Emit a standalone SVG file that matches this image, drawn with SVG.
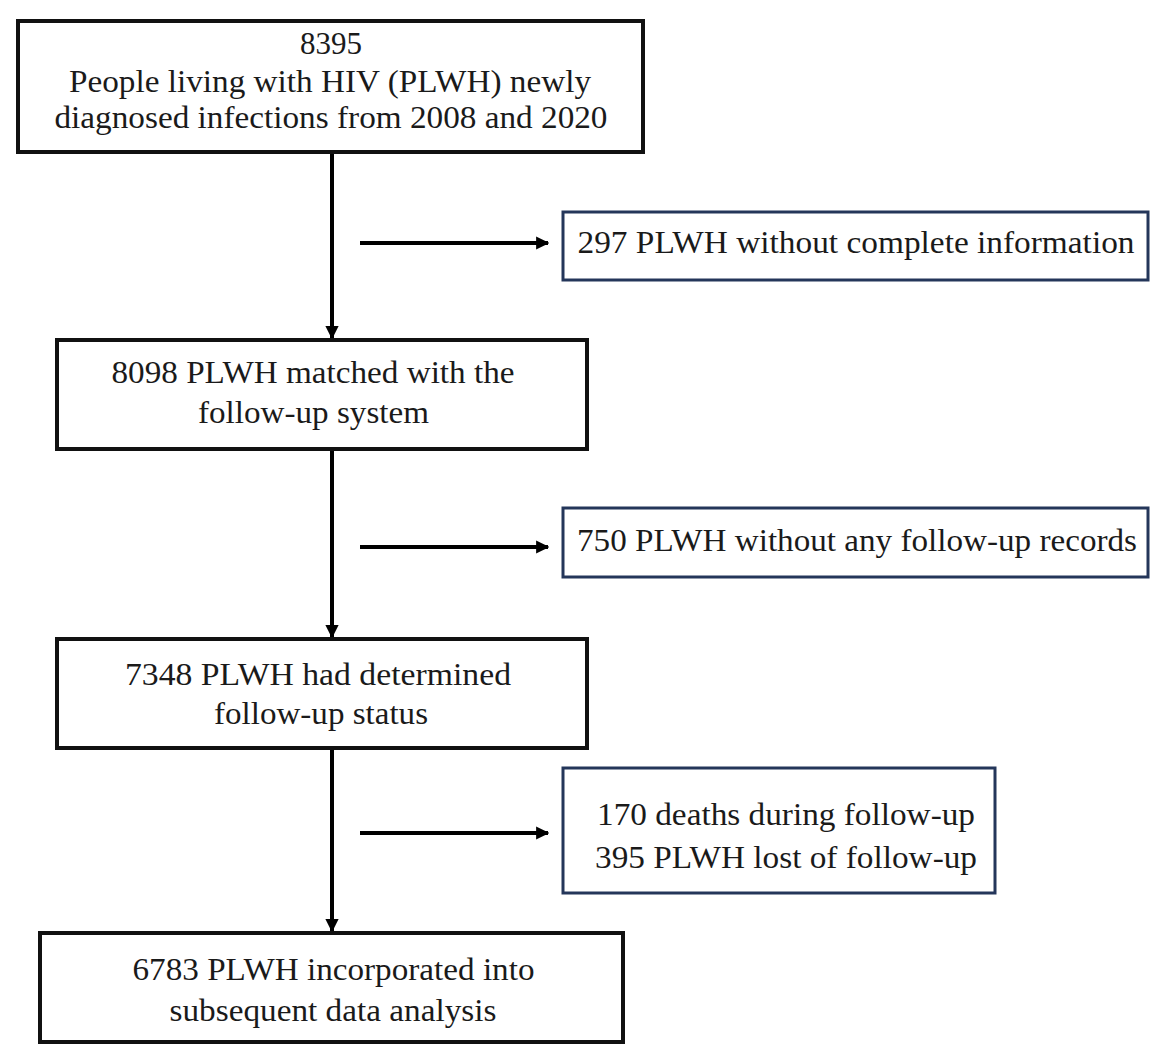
<svg xmlns="http://www.w3.org/2000/svg" width="1171" height="1059" viewBox="0 0 1171 1059">
<defs>
<style>
.main{fill:#fff;stroke:#111;stroke-width:4}
.side{fill:#fff;stroke:#24365a;stroke-width:3}
text{font-family:"Liberation Serif","Times New Roman",serif;font-size:31.5px;fill:#1a1a1a;text-anchor:middle}
.conn{stroke:#000;stroke-width:4;fill:none}
</style>
<marker id="ah" viewBox="0 0 10 10" refX="9" refY="5" markerWidth="3.3" markerHeight="3.3" markerUnits="strokeWidth" orient="auto">
<path d="M0,0 L10,5 L0,10 z" fill="#000"/>
</marker>
</defs>
<rect width="1171" height="1059" fill="#fff"/>
<g id="connectors">
<line class="conn" x1="332" y1="152" x2="332" y2="338" marker-end="url(#ah)"/>
<line class="conn" x1="332" y1="449" x2="332" y2="637" marker-end="url(#ah)"/>
<line class="conn" x1="332" y1="748" x2="332" y2="931" marker-end="url(#ah)"/>
<line class="conn" x1="360" y1="243" x2="548" y2="243" marker-end="url(#ah)"/>
<line class="conn" x1="360" y1="547" x2="548" y2="547" marker-end="url(#ah)"/>
<line class="conn" x1="360" y1="833" x2="548" y2="833" marker-end="url(#ah)"/>
</g>
<g id="n1">
<rect class="main" x="18" y="21" width="625" height="131"/>
<text x="331" y="54" textLength="62" lengthAdjust="spacingAndGlyphs">8395</text>
<text x="330" y="92" textLength="522" lengthAdjust="spacingAndGlyphs">People living with HIV (PLWH) newly</text>
<text x="331" y="128" textLength="553" lengthAdjust="spacingAndGlyphs">diagnosed infections from 2008 and 2020</text>
</g>
<g id="e1">
<rect class="side" x="563" y="212" width="585" height="68"/>
<text x="856" y="253" textLength="557" lengthAdjust="spacingAndGlyphs">297 PLWH without complete information</text>
</g>
<g id="n2">
<rect class="main" x="57" y="340" width="530" height="109"/>
<text x="313" y="383" textLength="403" lengthAdjust="spacingAndGlyphs">8098 PLWH matched with the</text>
<text x="313.5" y="423" textLength="231" lengthAdjust="spacingAndGlyphs">follow-up system</text>
</g>
<g id="e2">
<rect class="side" x="563" y="508" width="585" height="69"/>
<text x="857" y="551" textLength="560" lengthAdjust="spacingAndGlyphs">750 PLWH without any follow-up records</text>
</g>
<g id="n3">
<rect class="main" x="57" y="639" width="530" height="109"/>
<text x="318" y="685" textLength="386" lengthAdjust="spacingAndGlyphs">7348 PLWH had determined</text>
<text x="321" y="724" textLength="214" lengthAdjust="spacingAndGlyphs">follow-up status</text>
</g>
<g id="e3">
<rect class="side" x="563" y="768" width="432" height="125"/>
<text x="786" y="825" textLength="378" lengthAdjust="spacingAndGlyphs">170 deaths during follow-up</text>
<text x="786" y="868" textLength="382" lengthAdjust="spacingAndGlyphs">395 PLWH lost of follow-up</text>
</g>
<g id="n4">
<rect class="main" x="40" y="933" width="583" height="109"/>
<text x="333.5" y="980" textLength="402" lengthAdjust="spacingAndGlyphs">6783 PLWH incorporated into</text>
<text x="333" y="1021" textLength="327" lengthAdjust="spacingAndGlyphs">subsequent data analysis</text>
</g>
</svg>
